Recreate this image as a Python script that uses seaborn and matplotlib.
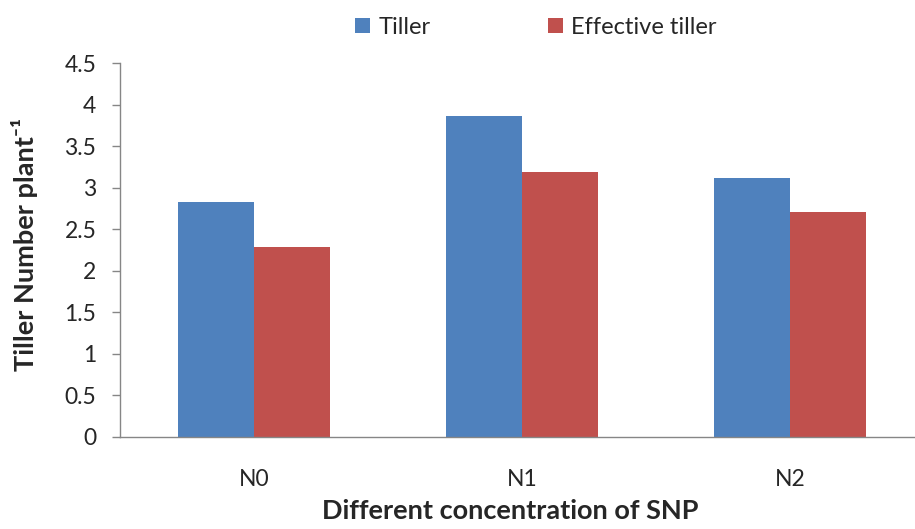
import matplotlib
matplotlib.use("Agg")
import matplotlib.pyplot as plt
import seaborn as sns
import pandas as pd
from matplotlib.patches import Patch
from matplotlib.ticker import FixedLocator

categories = ["N0", "N1", "N2"]
series_names = ["Tiller", "Effective tiller"]
tiller = [2.83, 3.86, 3.12]
effective_tiller = [2.28, 3.19, 2.70]
yticks = [0, 0.5, 1, 1.5, 2, 2.5, 3, 3.5, 4, 4.5]
ytick_labels = ["0", "0.5", "1", "1.5", "2", "2.5", "3", "3.5", "4", "4.5"]

colors = ["#4F81BD", "#C0504D"]

df = pd.DataFrame({
    "cat": categories * 2,
    "value": tiller + effective_tiller,
    "series": [series_names[0]] * 3 + [series_names[1]] * 3,
})

sns.set_style("white")
plt.rcParams["font.family"] = ["Lato", "DejaVu Sans"]

fig = plt.figure(figsize=(9.15, 5.29), dpi=100)
W, H = 915, 529
left, right, bottom, top = 120, 924, 436.7, 63
ax = fig.add_axes([left / W, (H - bottom) / H, (right - left) / W, (bottom - top) / H])

sns.barplot(data=df, x="cat", y="value", hue="series", palette=colors,
            width=0.57, ax=ax, legend=False, saturation=1, edgecolor="none")

ax.set_xlim(-0.5, 2.5)
ax.set_ylim(0, 4.5)
ax.set_yticks(yticks)
ax.set_yticklabels(ytick_labels, fontsize=16.5)
ax.set_xticks(range(len(categories)))
ax.set_xticklabels(categories, fontsize=16.5)
ax.xaxis.set_minor_locator(FixedLocator([-0.5, 0.5, 1.5, 2.5]))
ax.tick_params(axis="x", which="major", length=0, pad=23)
ax.tick_params(axis="x", which="minor", length=6, color="#868686", width=1)
ax.tick_params(axis="y", which="major", length=6, color="#868686", width=1, left=True, pad=11)

for s in ["top", "right"]:
    ax.spines[s].set_visible(False)
for s in ["left", "bottom"]:
    ax.spines[s].set_color("#868686")
    ax.spines[s].set_linewidth(1)

ax.set_xlabel("Different concentration of SNP", fontsize=19.5, fontweight="bold")
ax.set_ylabel("Tiller Number plant\u207b\u00b9", fontsize=19.5, fontweight="bold")
ax.xaxis.set_label_coords((510 - left) / (right - left), -(499 - bottom) / (bottom - top))
ax.yaxis.set_label_coords(-(120 - 38) / (right - left), (bottom - 244) / (bottom - top))

handles = [Patch(facecolor=c, edgecolor="none") for c in colors]
fig.legend(handles, series_names, loc="center", bbox_to_anchor=(536 / W, 1 - 27 / H),
           ncol=2, frameon=False, fontsize=17, handlelength=0.62, handleheight=0.62,
           handletextpad=0.35, columnspacing=5.0)

fig.savefig("out.png", dpi=100)
